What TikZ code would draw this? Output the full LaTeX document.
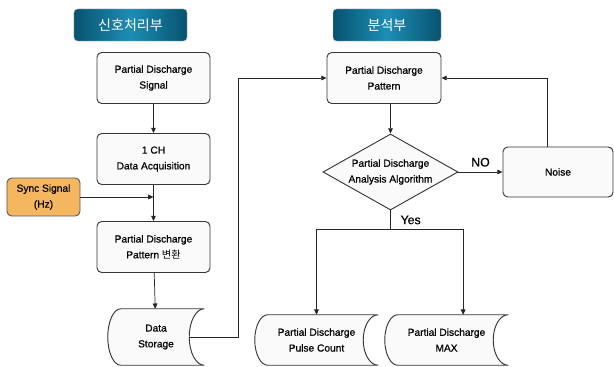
\documentclass[tikz,border=0pt]{standalone}
\usepackage{fontspec}
\setmainfont{Liberation Sans}[RawFeature={embolden=0.8}]
\newfontfamily\kr{Noto Sans CJK KR}
\usetikzlibrary{arrows.meta,shapes.geometric,calc,backgrounds}
\definecolor{tealdark}{RGB}{8,82,112}
\definecolor{teallight}{RGB}{28,142,180}
\definecolor{syncfill}{RGB}{245,182,96}
\definecolor{boxfill}{RGB}{250,250,250}
\definecolor{edge}{RGB}{55,55,55}
\begin{document}
\begin{tikzpicture}[x=0.03cm, y=-0.03cm,
    font=\fontsize{8.7}{13.5}\selectfont,
    box/.style={draw=edge, line width=0.8pt, rounded corners=4pt, fill=boxfill, align=center, minimum width=3.39cm, minimum height=1.53cm},
    title/.style={draw=gray!60, rounded corners=3pt, left color=tealdark, right color=tealdark, middle color=teallight, text=white, minimum height=0.96cm, font=\kr\fontsize{12}{14}\selectfont},
    stored/.style={align=center, minimum width=3.69cm, minimum height=1.5cm, inner sep=0pt},
    line/.style={line width=0.6pt, draw=black!85},
    arr/.style={line, -{Triangle[length=4.5pt,width=4pt]}},
    lbl/.style={font=\fontsize{10.5}{12}\selectfont}]
  \useasboundingbox (0,0) rectangle (614,367);

  % headings
  \node [title, minimum width=3.39cm] (head1) at (130.5,25) {신호처리부};
  \node [title, minimum width=3.24cm] (head2) at (387,25) {분석부};

  % signal processing column
  \node [box] (sig) at (153.5,78) {Partial Discharge\\Signal};
  \node [box] (acq) at (153.5,159) {1 CH\\Data Acquisition};
  \node [box] (pat) at (153.5,247) {Partial Discharge\\Pattern {\kr 변환}};
  \node [box, fill=syncfill, draw=black!65, minimum width=2.19cm, minimum height=1.14cm] (sync) at (43.5,197) {Sync Signal\\(Hz)};
  \node [stored, minimum width=2.88cm, minimum height=1.68cm] (store) at (156,337) {Data\\Storage};

  % analysis column
  \node [box, minimum width=3.42cm] (ppat) at (384,78) {Partial Discharge\\Pattern};
  \node [diamond, draw=edge, line width=0.8pt, fill=boxfill, aspect=1.78, inner sep=0pt, align=center, minimum width=4.05cm, minimum height=2.28cm] (alg) at (390.5,172) {Partial Discharge\\Analysis Algorithm};
  \node [box, minimum width=3.3cm, minimum height=1.5cm] (noise) at (558,172) {Noise};
  \node [stored] (count) at (316.5,340) {Partial Discharge\\Pulse Count};
  \node [stored] (peak) at (446.5,340) {Partial Discharge\\MAX};

  \begin{scope}[on background layer]
    \foreach \s in {store,count,peak}
      \draw [draw=edge, line width=0.8pt, fill=boxfill]
        let \p1 = (\s.north), \p2 = (\s.south) in
        ([xshift=0.39cm]\s.north west) -- (\s.north east)
        arc [start angle=90, end angle=270, x radius=0.45cm, y radius={abs(\y1-\y2)/2}]
        -- ([xshift=0.39cm]\s.south west)
        arc [start angle=270, end angle=90, x radius=0.39cm, y radius={abs(\y1-\y2)/2}]
        -- cycle;
  \end{scope}

  \draw [arr] (sig) -- (acq);
  \draw [arr] (acq) -- (pat);
  \draw [arr] (sync.east) -- (sync.east -| acq.south);
  \draw [arr] (pat) -- (store);
  \coordinate (bend) at (238,78);
  \draw [arr] ([xshift=-0.45cm]store.east) -| (bend) -- (ppat.west);

  \draw [arr] (alg.north |- ppat.south) -- (alg.north);
  \draw [arr] (alg) -- node [lbl, above=1pt] {NO} (noise);
  \draw [arr] ([xshift=-0.33cm]noise.north) |- (ppat.east);
  \coordinate (split) at ([yshift=-0.57cm]alg.south);
  \draw [line] (alg) -- node [lbl, right=5pt] {Yes} (split);
  \draw [arr] (split) -| (count.north);
  \draw [arr] (split) -| ([xshift=0.5cm]peak.north);
\end{tikzpicture}
\end{document}
